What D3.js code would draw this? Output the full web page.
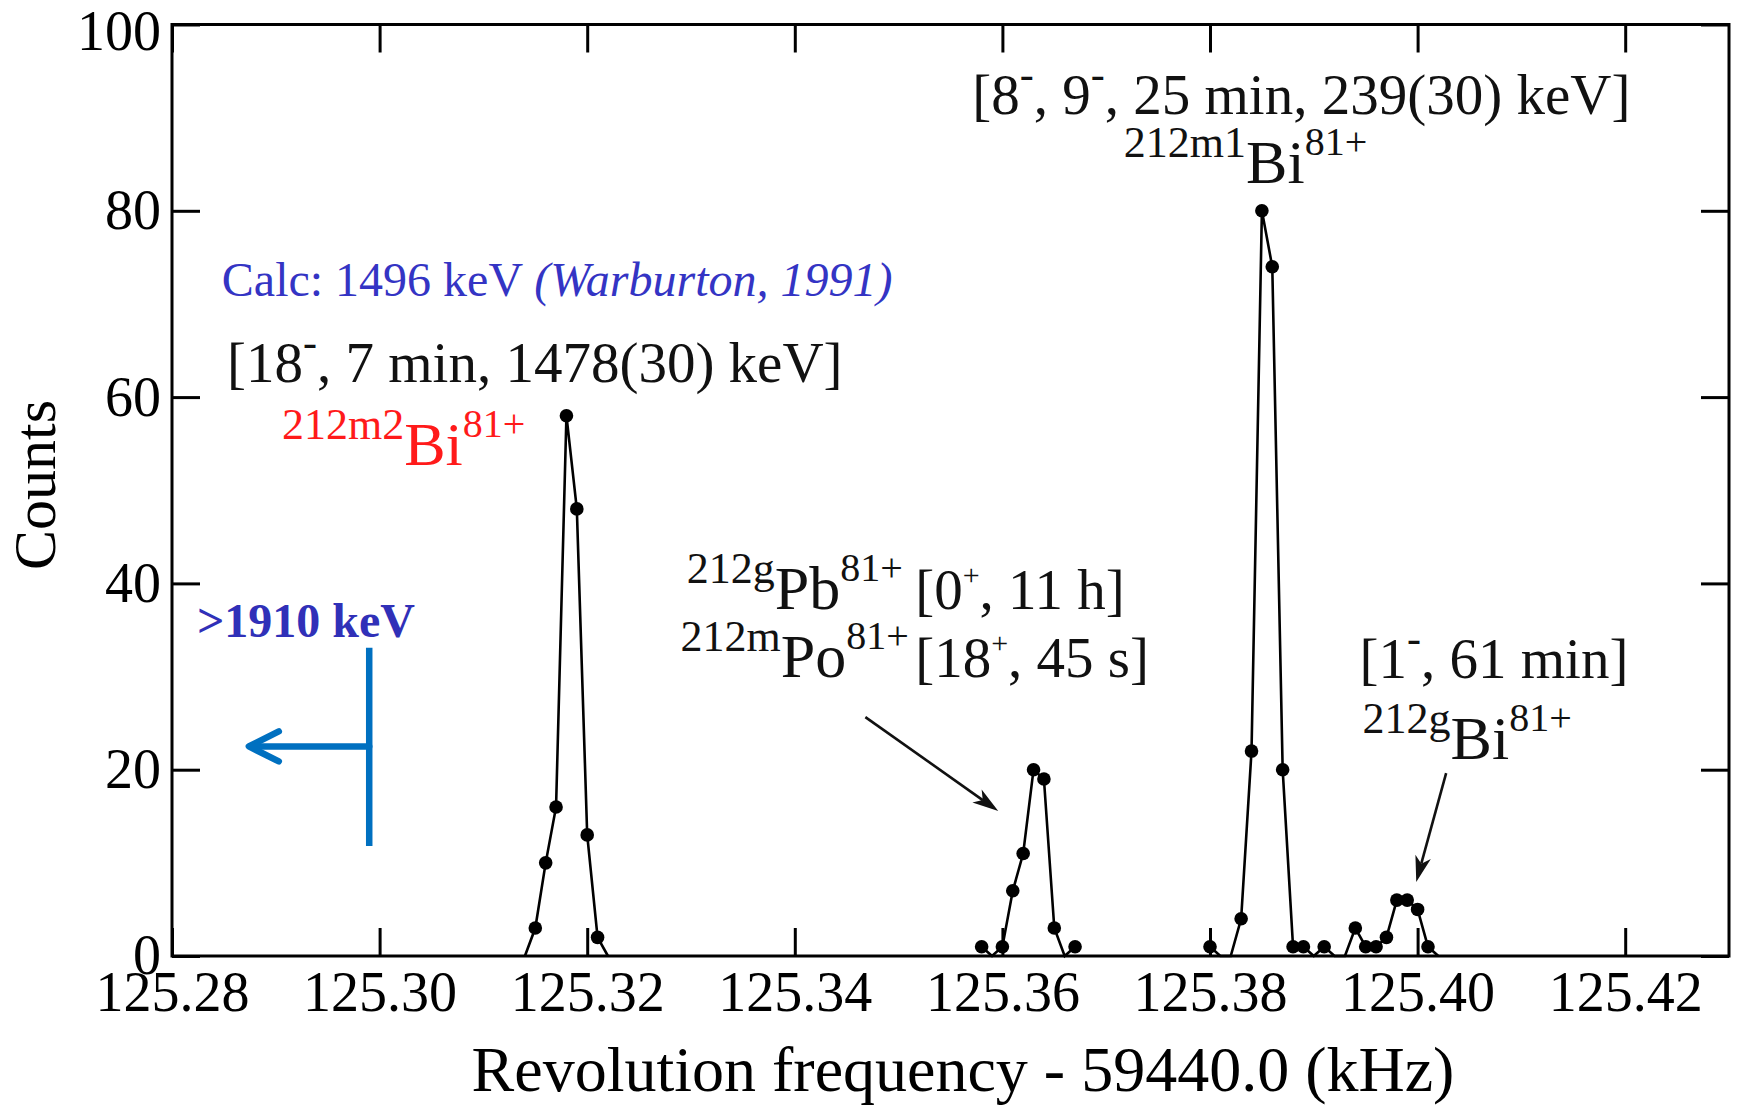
<!DOCTYPE html>
<html>
<head>
<meta charset="utf-8">
<script src="https://cdn.jsdelivr.net/npm/d3@7"></script>
<style>
  body { margin: 0; background: #fff; }
  text { font-family: "Liberation Serif", "Times New Roman", serif; }
</style>
</head>
<body>
<svg id="chart" width="1737" height="1110"></svg>
<script>
// ---------- DATA ----------
const xTickValues = [125.28, 125.30, 125.32, 125.34, 125.36, 125.38, 125.40, 125.42];
const yTickValues = [0, 20, 40, 60, 80, 100];

// 212m2Bi peak
const peakAFreq   = [125.314, 125.315, 125.316, 125.317, 125.318, 125.319, 125.320, 125.321, 125.322];
const peakACounts = [0, 3, 10, 16, 58, 48, 13, 2, 0];

// 212gPb / 212mPo peak
const peakBFreq   = [125.358, 125.359, 125.360, 125.361, 125.362, 125.363, 125.364, 125.365, 125.366, 125.367];
const peakBCounts = [1, 0, 1, 7, 11, 20, 19, 3, 0, 1];

// 212m1Bi + 212gBi peaks
const peakCFreq   = [125.380, 125.381, 125.382, 125.383, 125.384, 125.385, 125.386, 125.387, 125.388,
                     125.389, 125.390, 125.391, 125.392, 125.393, 125.394, 125.395, 125.396, 125.397,
                     125.398, 125.399, 125.400, 125.401, 125.402];
const peakCCounts = [1, 0, 0, 4, 22, 80, 74, 20, 1, 1, 0, 1, 0, 0, 3, 1, 1, 2, 6, 6, 5, 1, 0];

const peaks = [
  d3.zip(peakAFreq, peakACounts),
  d3.zip(peakBFreq, peakBCounts),
  d3.zip(peakCFreq, peakCCounts)
];

// ---------- SETUP ----------
const svg = d3.select("#chart");
const M = { left: 172, right: 1729, top: 24.5, bottom: 956 };
const TICK = 28;

const x = d3.scaleLinear().domain([125.28, 125.43]).range([M.left, M.right]);
const y = d3.scaleLinear().domain([0, 100]).range([M.bottom, M.top]);

// ---------- AXES ----------
function styleAxis(g) {
  g.select(".domain").remove();
  g.selectAll(".tick line").attr("stroke", "#000").attr("stroke-width", 3);
  g.selectAll(".tick text").attr("fill", "#000").style("font-size", "56px")
    .style("font-family", "'Liberation Serif', serif");
}

svg.append("g")
  .attr("transform", `translate(0,${M.bottom})`)
  .call(d3.axisBottom(x).tickValues(xTickValues).tickSizeInner(-TICK).tickSizeOuter(0)
    .tickPadding(15).tickFormat(d3.format(".2f")))
  .call(styleAxis);

svg.append("g")
  .attr("transform", `translate(0,${M.top})`)
  .call(d3.axisTop(x).tickValues(xTickValues).tickSizeInner(-TICK).tickSizeOuter(0).tickFormat(""))
  .call(styleAxis);

const yAxisG = svg.append("g")
  .attr("transform", `translate(${M.left},0)`)
  .call(d3.axisLeft(y).tickValues(yTickValues).tickSizeInner(-TICK).tickSizeOuter(0).tickPadding(11))
  .call(styleAxis);
// top label sits a little lower so it is not clipped
yAxisG.selectAll(".tick text").filter(d => d === 100).attr("y", 7);

svg.append("g")
  .attr("transform", `translate(${M.right},0)`)
  .call(d3.axisRight(y).tickValues(yTickValues).tickSizeInner(-TICK).tickSizeOuter(0).tickFormat(""))
  .call(styleAxis);

// frame
svg.append("rect")
  .attr("x", M.left).attr("y", M.top)
  .attr("width", M.right - M.left).attr("height", M.bottom - M.top)
  .attr("fill", "none").attr("stroke", "#000").attr("stroke-width", 3);

// axis titles
svg.append("text")
  .attr("x", 963).attr("y", 1091)
  .attr("text-anchor", "middle")
  .style("font-size", "64px")
  .text("Revolution frequency - 59440.0 (kHz)");

svg.append("text")
  .attr("transform", "translate(55,485) rotate(-90)")
  .attr("text-anchor", "middle")
  .style("font-size", "60px")
  .text("Counts");

// ---------- SPECTRUM ----------
const line = d3.line().x(d => x(d[0])).y(d => y(d[1]));

svg.append("g").selectAll("path")
  .data(peaks)
  .enter().append("path")
  .attr("fill", "none")
  .attr("stroke", "#000")
  .attr("stroke-width", 2.6)
  .attr("d", line);

svg.append("g").selectAll("circle")
  .data(peaks.flat().filter(d => d[1] > 0))
  .enter().append("circle")
  .attr("cx", d => x(d[0]))
  .attr("cy", d => y(d[1]))
  .attr("r", 6.8)
  .attr("fill", "#000");

// ---------- LABELS ----------
const STYLE = {
  txt:  { size: 57, off: 0 },
  el:   { size: 62, off: 0 },
  iso:  { size: 44, off: -26 },
  chg:  { size: 40, off: -28 },
  sgn:  { size: 42, off: -26 },
  sgnp: { size: 30, off: -24 },
  calc: { size: 48, off: 0 },
  calcIt: { size: 48, off: 0, italic: true },
  bold: { size: 48, off: 0, bold: true }
};

function richText(fx, fy, parts, color) {
  const t = svg.append("text")
    .attr("x", x(fx)).attr("y", y(fy))
    .attr("fill", color);
  let cur = 0;
  parts.forEach(([s, k]) => {
    const st = STYLE[k];
    t.append("tspan")
      .attr("dy", st.off - cur)
      .style("font-size", st.size + "px")
      .style("font-style", st.italic ? "italic" : "normal")
      .style("font-weight", st.bold ? "bold" : "normal")
      .text(s);
    cur = st.off;
  });
}

const BLUE_TXT = "#3434c4";
const RED = "#ff1a1a";
const INK = "#111";

richText(125.2848, 70.9, [["Calc: 1496 keV ", "calc"], ["(Warburton, 1991)", "calcIt"]], BLUE_TXT);
richText(125.2853, 61.6, [["[18", "txt"], ["-", "sgn"], [", 7 min, 1478(30) keV]", "txt"]], INK);
richText(125.2906, 52.7, [["212m2", "iso"], ["Bi", "el"], ["81+", "chg"]], RED);

richText(125.3571, 90.4, [["[8", "txt"], ["-", "sgn"], [", 9", "txt"], ["-", "sgn"],
  [", 25 min, 239(30) keV]", "txt"]], INK);
richText(125.3717, 83.0, [["212m1", "iso"], ["Bi", "el"], ["81+", "chg"]], INK);

richText(125.3296, 37.2, [["212g", "iso"], ["Pb", "el"], ["81+", "chg"]], INK);
richText(125.3516, 37.2, [["[0", "txt"], ["+", "sgnp"], [", 11 h]", "txt"]], INK);
richText(125.3290, 30.0, [["212m", "iso"], ["Po", "el"], ["81+", "chg"]], INK);
richText(125.3516, 30.0, [["[18", "txt"], ["+", "sgnp"], [", 45 s]", "txt"]], INK);

richText(125.3944, 29.8, [["[1", "txt"], ["-", "sgn"], [", 61 min]", "txt"]], INK);
richText(125.3947, 21.1, [["212g", "iso"], ["Bi", "el"], ["81+", "chg"]], INK);

richText(125.2824, 34.2, [[">1910 keV", "bold"]], "#3030b8");

// ---------- ARROWS ----------
function blackArrow(x1, y1, x2, y2) {
  const p1 = [x(x1), y(y1)], p2 = [x(x2), y(y2)];
  const a = Math.atan2(p2[1] - p1[1], p2[0] - p1[0]);
  const L = 26, Wd = 8, N = 19;
  const back = (d, s) => [p2[0] - d * Math.cos(a) - s * Math.sin(a), p2[1] - d * Math.sin(a) + s * Math.cos(a)];
  svg.append("line")
    .attr("x1", p1[0]).attr("y1", p1[1])
    .attr("x2", back(N, 0)[0]).attr("y2", back(N, 0)[1])
    .attr("stroke", INK).attr("stroke-width", 2.6);
  svg.append("path")
    .attr("d", "M" + [p2, back(L, Wd), back(N, 0), back(L, -Wd)].map(p => p.join(",")).join("L") + "Z")
    .attr("fill", INK);
}
blackArrow(125.3468, 25.65, 125.3596, 15.56);
blackArrow(125.40275, 19.64, 125.39987, 7.94);

// blue limit marker
const blue = svg.append("g")
  .attr("stroke", "#0070c0").attr("stroke-width", 6.5)
  .attr("stroke-linecap", "round").attr("stroke-linejoin", "round").attr("fill", "none");
blue.append("line")
  .attr("x1", x(125.2990)).attr("x2", x(125.2990))
  .attr("y1", y(33.1)).attr("y2", y(11.8))
  .attr("stroke-linecap", "butt");
blue.append("line")
  .attr("x1", x(125.2990)).attr("x2", x(125.2876))
  .attr("y1", y(22.5)).attr("y2", y(22.5));
blue.append("path")
  .attr("d", `M${x(125.2874) + 30},${y(22.5) - 15}L${x(125.2874)},${y(22.5)}L${x(125.2874) + 30},${y(22.5) + 15}`);
</script>
</body>
</html>
